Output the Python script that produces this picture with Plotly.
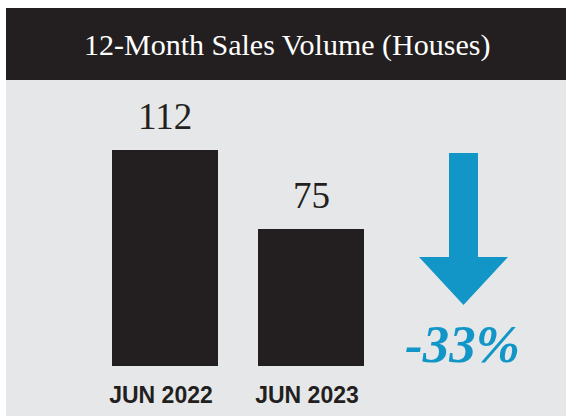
import plotly.graph_objects as go

# ---- data ----
categories = ["JUN 2022", "JUN 2023"]
sales_volume = [112, 75]
title_text = "12-Month Sales Volume (Houses)"

# ---- style constants ----
W, H = 566, 416
BLACK = "#231f20"
GRAY = "#e6e7e8"
BLUE = "#1296c7"

def px(x):
    return x / W

def py(y):
    return 1 - y / H

change = round((sales_volume[1] - sales_volume[0]) / sales_volume[0] * 100)
change_text = f"{change}%"

xs = list(range(len(categories)))

fig = go.Figure()
fig.add_trace(go.Bar(
    x=xs, y=sales_volume, width=0.726,
    marker=dict(color=BLACK, line=dict(width=0)),
    hoverinfo="skip",
))

# value labels
for x, v in zip(xs, sales_volume):
    fig.add_annotation(x=x, y=v, xref="x", yref="y", text=str(v), showarrow=False,
                       yanchor="bottom", yshift=11,
                       font=dict(family="Liberation Serif", size=37, color=BLACK))

shapes = [
    dict(type="rect", xref="paper", yref="paper", x0=px(6), x1=1, y0=0, y1=py(8),
         fillcolor=GRAY, line=dict(width=0), layer="below"),
    dict(type="rect", xref="paper", yref="paper", x0=px(6), x1=1, y0=py(80), y1=py(8),
         fillcolor=BLACK, line=dict(width=0), layer="below"),
]
# arrow (decorative)
ax = [(449, 153), (478, 153), (478, 257), (508, 257), (463.5, 305), (419, 257), (449, 257)]
path = "M " + " L ".join(f"{px(a):.5f},{py(b):.5f}" for a, b in ax) + " Z"
shapes.append(dict(type="path", xref="paper", yref="paper", path=path,
                   fillcolor=BLUE, line=dict(width=0)))

fig.add_annotation(x=px(287), y=py(45), xref="paper", yref="paper", text=title_text,
                   showarrow=False, xanchor="center", yanchor="middle",
                   font=dict(family="Liberation Serif", size=30, color="white"))
fig.add_annotation(x=px(462.5), y=py(344), xref="paper", yref="paper",
                   text=f"<b><i>{change_text}</i></b>", showarrow=False,
                   xanchor="center", yanchor="middle",
                   font=dict(family="Liberation Serif", size=53, color=BLUE))

k = 2.1351
y0 = 10.83
plot_top, plot_bot = 100, 366
yr = [y0, y0 + (plot_bot - plot_top) / k]
sx = 146.0
c0 = 165
xr = [-c0 / sx, (W - c0) / sx]

fig.update_layout(
    width=W, height=H,
    margin=dict(l=0, r=0, t=0, b=0),
    paper_bgcolor="white", plot_bgcolor="rgba(0,0,0,0)",
    showlegend=False, shapes=shapes,
    xaxis=dict(range=xr, tickvals=xs, ticktext=categories, showgrid=False,
               zeroline=False, showline=False, ticks="", ticklabelstandoff=13,
               ticklabelshift=-4, fixedrange=True,
               tickfont=dict(family="Liberation Sans", size=23, color=BLACK, weight="bold")),
    yaxis=dict(range=yr, domain=[1 - plot_bot / H, 1 - plot_top / H], visible=False,
               showgrid=False, zeroline=False, fixedrange=True),
)
fig.write_html("out.html", config={"displayModeBar": False},
               post_script="document.body.style.margin='0';document.body.style.overflow='hidden';")
